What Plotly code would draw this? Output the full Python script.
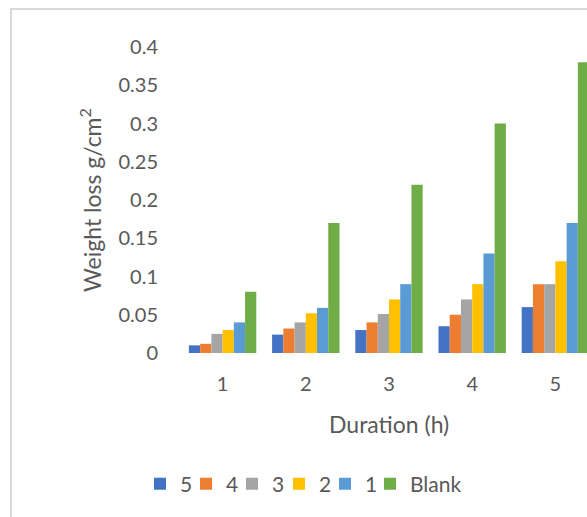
import plotly.graph_objects as go

durations = ["1", "2", "3", "4", "5"]
series_names = ["5", "4", "3", "2", "1", "Blank"]
s5 = [0.010, 0.024, 0.030, 0.035, 0.060]
s4 = [0.012, 0.032, 0.040, 0.050, 0.090]
s3 = [0.025, 0.040, 0.051, 0.070, 0.090]
s2 = [0.030, 0.052, 0.070, 0.090, 0.120]
s1 = [0.040, 0.059, 0.090, 0.130, 0.170]
blank = [0.080, 0.170, 0.220, 0.300, 0.380]
colors = ["#4472C4", "#ED7D31", "#A5A5A5", "#FFC000", "#5B9BD5", "#70AD47"]
y_ticks = [0, 0.05, 0.1, 0.15, 0.2, 0.25, 0.3, 0.35, 0.4]
y_ticktext = ["0", "0.05", "0.1", "0.15", "0.2", "0.25", "0.3", "0.35", "0.4"]

FONT = "Lato"
GREY = "#595959"

W, H = 587, 517
L, R, T, B = 181, 0, 47, 164
pw = W - L - R
ph = H - T - B

def px(x):
    return (x - L) / pw

def py(y):
    return (H - B - y) / ph

# left pixel where each legend entry box starts
legend_left_px = [140, 186, 232, 279, 325, 370]
legend_ids = ["legend"] + ["legend%d" % i for i in range(2, 7)]

fig = go.Figure()
for name, vals, c, lid in zip(series_names, [s5, s4, s3, s2, s1, blank], colors, legend_ids):
    fig.add_trace(go.Bar(x=durations, y=vals, name=name, legend=lid,
                         marker=dict(color=c, line=dict(width=0))))

legend_layout = {}
for lid, lx in zip(legend_ids, legend_left_px):
    legend_layout[lid] = dict(orientation="h", x=px(lx), xanchor="left", y=py(484), yanchor="middle",
                              font=dict(size=21, color=GREY), itemwidth=30,
                              bgcolor="rgba(0,0,0,0)")

fig.update_layout(
    width=W, height=H,
    margin=dict(l=L, r=R, t=T, b=B),
    paper_bgcolor="white", plot_bgcolor="white",
    barmode="group", bargap=0.19, bargroupgap=0,
    font=dict(family=FONT, color=GREY, size=20),
    showlegend=True,
    **legend_layout,
    xaxis=dict(type="category", range=[-0.5, 4.38], showgrid=False, zeroline=False,
               showline=False, ticks="", ticklabelstandoff=17,
               tickfont=dict(size=20, color=GREY)),
    yaxis=dict(range=[0, 0.4], tickvals=y_ticks, ticktext=y_ticktext, showgrid=False,
               zeroline=False, showline=False, ticks="", ticklabelstandoff=22,
               tickfont=dict(size=20, color=GREY),
               title=dict(text="Weight loss g/cm<sup>2</sup>", font=dict(size=23, color=GREY), standoff=10)),
    shapes=[
        dict(type="line", xref="paper", yref="paper", x0=px(11), x1=px(11), y0=py(9), y1=py(530),
             line=dict(color="#d9d9d9", width=2)),
        dict(type="line", xref="paper", yref="paper", x0=px(10), x1=px(600), y0=py(9), y1=py(9),
             line=dict(color="#d9d9d9", width=2)),
    ],
    annotations=[
        dict(text="Duration (h)", xref="paper", yref="paper", x=px(389), y=py(424),
             xanchor="center", yanchor="middle", showarrow=False,
             font=dict(size=23, color=GREY, family=FONT)),
    ],
)

fig.write_html("out.html")
